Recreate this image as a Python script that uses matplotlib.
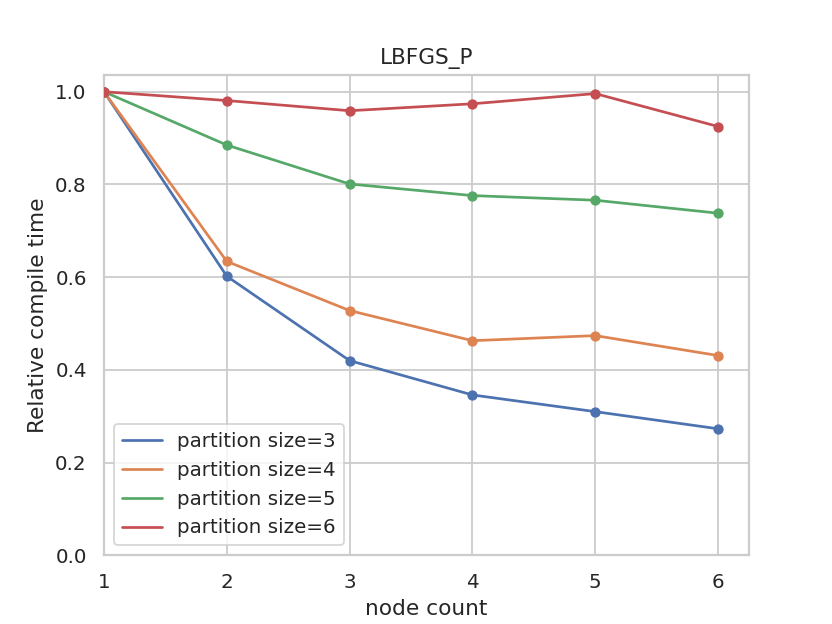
import matplotlib
matplotlib.use("Agg")
import matplotlib.pyplot as plt
import seaborn as sns

sns.set_theme(style="whitegrid")
plt.rcParams['font.family'] = ['DejaVu Sans']

nodes = [1, 2, 3, 4, 5, 6]
p3 = [1.0, 0.602, 0.420, 0.346, 0.310, 0.273]
p4 = [1.0, 0.634, 0.528, 0.463, 0.474, 0.431]
p5 = [1.0, 0.885, 0.801, 0.776, 0.766, 0.738]
p6 = [1.0, 0.981, 0.959, 0.974, 0.996, 0.925]
labels = ["partition size=3", "partition size=4", "partition size=5", "partition size=6"]

fig, ax = plt.subplots(figsize=(6.4, 4.8), dpi=130)
for vals, lab in zip([p3, p4, p5, p6], labels):
    line, = ax.plot(nodes, vals, label=lab)
    ax.scatter(nodes, vals, s=22, color=line.get_color(), zorder=3)
ax.set_xlim(left=1)
ax.set_ylim(bottom=0)
ax.set_title("LBFGS_P")
ax.set_xlabel("node count")
ax.set_ylabel("Relative compile time")
ax.legend(loc="lower left")
fig.savefig("out.png", dpi=130)
